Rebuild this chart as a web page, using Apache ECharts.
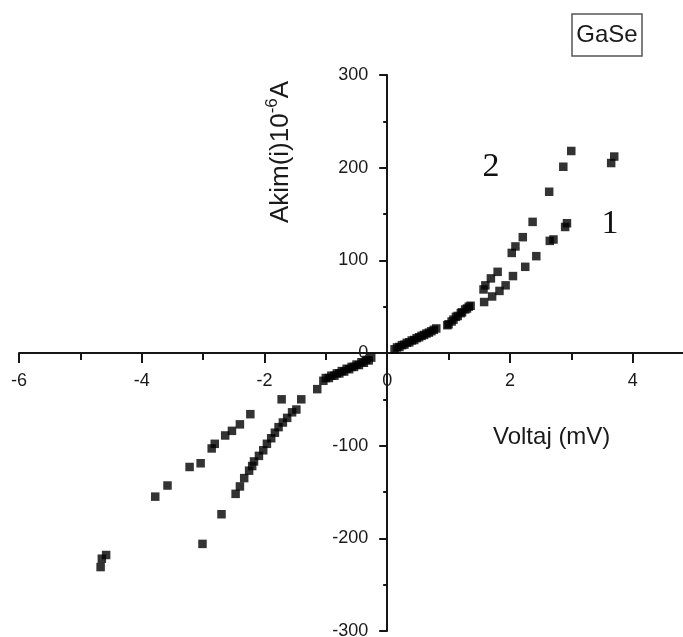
<!DOCTYPE html>
<html>
<head>
<meta charset="utf-8">
<style>
  html, body { margin: 0; padding: 0; background: #fff; }
  #chart { width: 683px; height: 637px; }
</style>
<script src="https://cdn.jsdelivr.net/npm/echarts@6/dist/echarts.min.js"></script>
</head>
<body>
<div id="chart"></div>
<script>
// Curve 1: voltage (mV) and current (10^-6 A)
const curve1V = [-4.67, -4.65, -4.58, -3.78, -3.58, -3.22, -3.04, -2.86, -2.81, -2.64, -2.53, -2.40, -2.23, -1.72,
  -1.04, -0.95, -0.86, -0.78, -0.70, -0.62, -0.54, -0.46, -0.38, -0.30,
  0.12, 0.20, 0.28, 0.36, 0.44, 0.52, 0.60, 0.68, 0.76,
  1.00, 1.08, 1.15, 1.22, 1.30, 1.36,
  1.58, 1.71, 1.83, 1.93, 2.05, 2.25, 2.43, 2.65, 2.71, 2.90, 2.93, 3.65, 3.70];
const curve1I = [-231, -222, -218, -155, -143, -123, -119, -103, -98, -89, -84, -77, -66, -50,
  -30, -27, -24.5, -22, -20, -17.5, -15, -13, -10.5, -8,
  4, 6.5, 9, 11.5, 14, 17, 19.5, 22, 25,
  31, 36, 40, 44, 48, 51,
  55, 61, 67, 73, 83, 93, 104.5, 121, 122.5, 136, 140, 205, 212];

// Curve 2: voltage (mV) and current (10^-6 A)
const curve2V = [-3.01, -2.70, -2.47, -2.40, -2.33, -2.25, -2.20, -2.17, -2.09, -2.02, -1.96, -1.89, -1.83, -1.77,
  -1.70, -1.63, -1.55, -1.48, -1.40, -1.14,
  -1.00, -0.91, -0.82, -0.74, -0.66, -0.58, -0.50, -0.42, -0.34, -0.26,
  0.16, 0.24, 0.32, 0.40, 0.48, 0.56, 0.64, 0.72, 0.80,
  0.98, 1.05, 1.12, 1.20, 1.27, 1.33,
  1.57, 1.60, 1.69, 1.80, 2.03, 2.09, 2.21, 2.37, 2.64, 2.87, 3.00];
const curve2I = [-206, -174, -152, -144, -135, -127, -122, -117, -111, -105, -98, -92, -86, -80,
  -75, -70, -64, -61, -50, -39,
  -27, -24.5, -22, -19.5, -17, -15, -12.5, -10, -7.5, -5,
  6, 8.5, 11, 13.5, 16, 18.5, 21, 23.5, 26.5,
  30, 34, 39, 43, 47, 50,
  68.6, 73, 80.5, 87.6, 108, 115, 125, 141.5, 174, 201, 218];

const xTicks = { min: -6, max: 5, interval: 2 };
const yTicks = { min: -300, max: 300, interval: 100 };

const zip = (a, b) => a.map((v, i) => [v, b[i]]);

// Plot box in pixels; the axes are shifted from the box edges to cross at (0, 0)
const box = { left: 19, right: -11, top: 75, bottom: 6 };
const W = 683, H = 637;
const plotW = W - box.left - box.right;
const plotH = H - box.top - box.bottom;
const zeroX = box.left + plotW * (0 - xTicks.min) / (xTicks.max - xTicks.min);
const zeroY = box.top + plotH * (yTicks.max - 0) / (yTicks.max - yTicks.min);
const xAxisOffset = -((H - box.bottom) - zeroY);
const yAxisOffset = -(zeroX - box.left);

const chart = echarts.init(document.getElementById('chart'), null, { renderer: 'canvas' });
const axisColor = '#161616';
const labelFont = { color: '#1a1a1a', fontFamily: 'Liberation Sans, Arial, sans-serif', fontSize: 18 };

chart.setOption({
  animation: false,
  backgroundColor: '#fff',
  grid: { left: box.left, right: box.right, top: box.top, bottom: box.bottom, containLabel: false, outerBoundsMode: 'none' },
  xAxis: {
    type: 'value', position: 'bottom', offset: xAxisOffset,
    min: xTicks.min, max: xTicks.max, interval: xTicks.interval,
    axisLine: { onZero: false, lineStyle: { color: axisColor, width: 2 } },
    axisTick: { show: true, inside: false, length: 10, lineStyle: { color: axisColor, width: 2 } },
    minorTick: { show: true, splitNumber: 2, length: 7, lineStyle: { color: axisColor, width: 2 } },
    splitLine: { show: false },
    axisLabel: Object.assign({ margin: 19, showMaxLabel: false, hideOverlap: false }, labelFont)
  },
  yAxis: {
    type: 'value', position: 'left', offset: yAxisOffset,
    min: yTicks.min, max: yTicks.max, interval: yTicks.interval,
    axisLine: { onZero: false, lineStyle: { color: axisColor, width: 2 } },
    axisTick: { show: true, inside: false, length: 8, lineStyle: { color: axisColor, width: 2 } },
    minorTick: { show: true, splitNumber: 2, length: 4, lineStyle: { color: axisColor, width: 2 } },
    splitLine: { show: false },
    axisLabel: Object.assign({ margin: 19, hideOverlap: false }, labelFont)
  },
  series: [
    {
      name: '1', type: 'scatter', symbol: 'rect', symbolSize: 8.5,
      itemStyle: { color: '#000' },
      data: zip(curve1V, curve1I)
    },
    {
      name: '2', type: 'scatter', symbol: 'rect', symbolSize: 8.5,
      itemStyle: { color: '#000' },
      data: zip(curve2V, curve2I)
    }
  ],
  graphic: [
    {
      type: 'text', x: 279, y: 152, rotation: Math.PI / 2,
      style: {
        text: '{a|Akim(i)10}{s|-6}{a|A}',
        align: 'center', verticalAlign: 'middle',
        rich: {
          a: { fontSize: 26, fontFamily: 'Liberation Sans, Arial, sans-serif', fill: '#1a1a1a', lineHeight: 30, verticalAlign: 'bottom' },
          s: { fontSize: 17, fontFamily: 'Liberation Sans, Arial, sans-serif', fill: '#1a1a1a', lineHeight: 30, verticalAlign: 'top' }
        }
      }
    },
    {
      type: 'text', x: 493, y: 437,
      style: { text: 'Voltaj (mV)', fontSize: 24, fontFamily: 'Liberation Sans, Arial, sans-serif', fill: '#1a1a1a', align: 'left', verticalAlign: 'middle' }
    },
    {
      type: 'rect', shape: { x: 572, y: 14, width: 70, height: 42 },
      style: { fill: 'none', stroke: '#555', lineWidth: 1.5 }
    },
    {
      type: 'text', x: 607, y: 35,
      style: { text: 'GaSe', fontSize: 24, fontFamily: 'Liberation Sans, Arial, sans-serif', fill: '#1a1a1a', align: 'center', verticalAlign: 'middle' }
    },
    {
      type: 'text', x: 491, y: 167,
      style: { text: '2', fontSize: 34, fontFamily: 'Liberation Serif, Times New Roman, serif', fill: '#111', align: 'center', verticalAlign: 'middle' }
    },
    {
      type: 'text', x: 610, y: 224,
      style: { text: '1', fontSize: 34, fontFamily: 'Liberation Serif, Times New Roman, serif', fill: '#111', align: 'center', verticalAlign: 'middle' }
    }
  ]
});
</script>
</body>
</html>
